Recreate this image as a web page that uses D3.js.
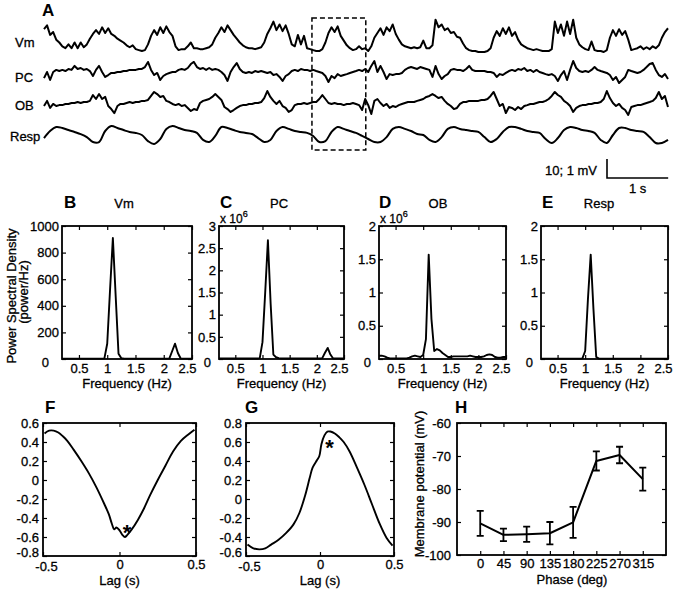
<!DOCTYPE html>
<html><head><meta charset="utf-8">
<script src="https://cdn.jsdelivr.net/npm/d3@7"></script>
<style>
body{margin:0;background:#fff;}
svg{display:block;}
</style></head><body>
<svg id="fig" width="676" height="592"></svg>
<script>
// ---------------- DATA ----------------
// Panel A: traces (sample interval in seconds)
const traceDt = 0.05;
const vmTrace = [ // mV
 -60,-58,-63,-61.5,-65.5,-67,-69,-70,-68,-70,
 -67,-70,-67,-69.5,-68,-65,-62.5,-60.5,-62.5,-59,
 -62,-59.5,-62.5,-63.5,-65,-66,-67,-68.5,-69.5,-68.5,
 -70.5,-71,-71.5,-71,-68,-63.5,-60.5,-63,-59,-62,
 -58.5,-61.5,-63.5,-69,-71,-70.5,-70.5,-69,-67,-70,
 -70,-70.5,-70.5,-70,-69.5,-68,-64.5,-62,-59,-61.5,
 -58,-60.5,-63,-65,-67,-68.5,-69.5,-70,-70,-70.5,
 -70,-69.5,-67,-62.5,-59.5,-56,-60.5,-57.5,-61,-58,
 -62.5,-68,-69,-63,-68,-63.5,-70,-70.5,-71,-71.5,
 -71.5,-70.5,-67,-62,-59,-61.5,-58.5,-63.5,-66,-68.5,
 -70,-71,-70.5,-69,-70.5,-70,-71.5,-69,-64.5,-62,
 -59.5,-63,-59,-61,-57.5,-62.5,-65.5,-68,-69,-69.5,
 -70,-69.5,-70,-69.5,-66,-70,-70,-68.5,-55,-59,
 -57.5,-60.5,-59.5,-62,-61.5,-64,-64.5,-67.5,-70,-71,
 -71.5,-71.5,-72,-72,-72,-71.5,-70,-64.5,-61,-63.5,
 -59.5,-62.5,-59,-63.5,-61.5,-65.5,-68,-69,-70,-70.5,
 -71,-70.5,-71,-71.5,-71.5,-71.5,-70.5,-56,-62,-57.5,
 -63.5,-56,-62.5,-55,-64.5,-68,-69.5,-70.5,-71,-66.5,
 -71,-71.5,-71.5,-72,-71,-64.5,-60.5,-63.5,-60,-63,
 -61,-65.5,-71,-70.5,-70,-69,-70.5,-69.5,-70.5,-69,
 -70,-68.5,-64.5,-61.5,-59.5];
const pcTrace = [ // mV
 -0.32,0,-0.42,0,0.11,0.05,0.11,0.05,0.16,0.11,
 0.32,0.16,0.21,0.11,0.16,0.05,-0.21,0.11,0.32,0,
 -0.26,-0.16,-0.05,-0.05,0,0,0.05,0.05,0.11,0.11,
 0.11,0.16,0.16,0.26,0.53,0.11,-0.16,-0.05,-0.42,-0.21,
 -0.11,-0.05,0,0,0.11,0.16,0.11,0.21,0.42,0.53,
 0.26,0.16,0.21,0.11,0.21,0.11,0.16,0.11,0,-0.16,
 -0.47,0,0.26,0.47,0.16,0,-0.05,0,-0.05,0.05,
 0,0.05,0,-0.05,0,-0.16,-0.11,-0.26,-0.47,-0.21,
 -0.11,0.05,0.11,0.05,0.16,0.11,0.11,0.05,0.11,0.05,
 0,-0.05,-0.21,-0.53,-0.21,-0.32,-0.11,-0.21,-0.16,-0.11,
 -0.05,0,0.05,0.11,0.05,0.16,0,0.32,0.58,0,
 0.32,0,-0.37,-0.11,-0.16,-0.11,-0.11,-0.05,0.11,0.21,
 0.26,0.21,0.16,0.26,0.21,0.16,0.11,-0.26,0.32,-0.11,
 -0.37,-0.21,-0.11,0.11,0.16,0.11,0.11,0.05,0.16,0.32,
 0.11,0.05,0.05,0.05,0.05,0,0,-0.05,-0.26,-0.11,
 -0.16,-0.05,0.05,0.11,0.05,0.16,0.11,0.21,0.05,0.11,
 0,0.11,0,-0.05,-0.11,-0.16,-0.11,-0.21,-0.47,-0.16,
 0.05,-0.42,0.11,0.58,0.21,0.05,0,0.05,0,0.11,
 0.26,0.11,0.05,0,-0.05,-0.16,-0.42,-0.26,-0.58,-0.42,
 -0.26,0.11,0.05,0,-0.05,0,0.11,0.26,0.42,0.47,
 0.11,-0.16,-0.26,-0.11,-0.37];
const obTrace = [ // mV
 -0.16,0.11,-0.26,-0.05,-0.16,-0.11,-0.11,-0.05,-0.05,0,
 0,0.05,0,0.05,0.05,0.11,0.42,0.21,0.47,0.21,
 0.32,-0.16,-0.32,-0.53,-0.16,-0.05,-0.05,0,0.05,0,
 0.05,0.05,0.11,0.11,0.16,0.37,0.58,0.47,0.32,0.37,
 0.11,0.05,-0.05,-0.11,-0.05,-0.16,-0.11,-0.26,-0.42,-0.32,
 -0.37,0,0.11,0.16,0.21,0.32,0.47,0.32,0.16,-0.21,
 -0.32,-0.47,-0.37,-0.26,-0.16,-0.11,-0.11,-0.05,-0.05,0,
 0,0.05,0.26,0.63,0.32,0.11,-0.05,0.11,-0.16,-0.26,
 -0.47,-0.37,-0.11,-0.05,-0.05,0,-0.05,0,0.05,0.05,
 0.21,0.42,0.21,0,-0.05,0,-0.05,-0.05,-0.11,-0.05,
 -0.05,0,-0.05,-0.11,-0.37,0.21,-0.11,-0.58,0.11,0.21,
 0,-0.16,-0.05,-0.26,-0.16,-0.21,-0.11,-0.05,0,0.05,
 0.05,0.05,0.11,0.16,0.21,0.32,0.37,0.47,0.37,0.26,
 0.32,0.11,-0.05,-0.16,-0.32,-0.26,-0.05,0.05,0.05,0.11,
 0.11,0.11,0.11,0.16,0.16,0.21,0.37,0.58,0.21,-0.16,
 -0.05,-0.53,-0.21,-0.26,-0.37,-0.21,-0.32,-0.16,-0.11,-0.05,
 -0.05,0,0.05,0.05,0.11,0.21,0.37,0.58,0.42,0.32,
 0.11,0,-0.16,-0.47,-0.26,-0.16,-0.11,-0.11,-0.05,-0.05,
 0,0,0.05,0.21,0.63,0.26,0,-0.16,-0.05,-0.26,
 -0.37,-0.63,-0.21,-0.16,-0.11,-0.11,-0.05,0,0.05,0.11,
 0.26,0.58,0.21,0.37,-0.21];
const respDt = 0.1;
const respTrace = [ // a.u.
 -1.6,2.1,4.2,3.7,2.6,1.6,0.5,-1.1,-3.7,-3.7,
 2.1,4.7,3.7,2.6,1.6,1.1,0,-3.2,-4.7,-2.1,
 3.2,4.7,3.7,2.6,2.1,1.1,-2.6,-3.7,-0.5,4.2,
 3.7,2.6,1.6,1.1,0.5,-1.6,-3.7,-2.6,2.1,4.2,
 3.2,2.1,1.6,1.1,-0.5,-3.7,-3.2,1.6,4.2,3.2,
 2.1,1.1,-0.5,-2.1,-3.7,-3.7,-1.1,3.2,4.2,3.2,
 2.1,0.5,0,-2.6,-3.7,-1.1,3.2,4.2,3.2,2.6,
 2.1,1.6,-1.1,-3.7,-2.1,1.6,4.2,4.2,3.2,2.1,
 1.6,1.1,-2.1,-4.2,-1.6,2.6,4.2,3.7,2.6,2.1,
 1.1,-2.6,-4.2,0,3.7,3.7,2.6,2.1,1.6,-1.1,
 -4.2,-4.2,-2.6];
const traceLabels = ["Vm","PC","OB","Resp"];
const zoomWindow = [4.38, 5.26]; // s, dashed box
const scaleBarText = "10; 1 mV";
const scaleBarTime = "1 s";

// Panels B-E: power spectral density
const psdFreq = [0.2,0.25,0.3,0.35,0.4,0.45,0.5,0.55,0.6,0.65,0.7,0.75,0.8,0.85,0.9,0.95,
 1.0,1.05,1.1,1.15,1.2,1.25,1.3,1.35,1.4,1.45,1.5,1.55,1.6,1.65,1.7,1.75,1.8,1.85,1.9,1.95,
 2.0,2.05,2.1,2.15,2.2,2.25,2.3,2.35,2.4,2.45,2.5];
const psdVm = [3,3,3,3,3,3,3,3,3,3,3,3,3,3,3,5,115,520,910,470,40,6,
 3,3,3,3,3,3,3,3,3,3,3,3,3,3,3,3,5,60,115,45,4,3,3,3,3];
const psdPC = [0.01,0.01,0.01,0.01,0.01,0.01,0.01,0.01,0.01,0.01,0.01,0.01,0.01,0.01,0.01,
 0.02,0.38,1.5,2.68,1.25,0.1,0.04,0.02,
 0.01,0.01,0.01,0.01,0.01,0.01,0.01,0.01,0.01,0.01,0.01,0.01,0.01,0.01,0.01,
 0.02,0.14,0.25,0.1,0.01,0.01,0.01,0.01,0.01];
const psdOB = [0.05,0.05,0.04,0.02,0.01,0.01,0.01,0.01,0.01,0.01,0.01,0.02,0.04,0.05,0.04,0.03,
 0.06,0.3,1.57,0.6,0.12,0.15,0.13,0.09,0.06,0.03,0.03,0.04,0.04,0.04,0.04,0.04,0.04,0.05,0.04,
 0.03,0.03,0.03,0.04,0.06,0.07,0.06,0.03,0.02,0.02,0.03,0.03];
const psdResp = [0.005,0.005,0.005,0.005,0.005,0.005,0.005,0.005,0.005,0.005,0.005,0.005,0.005,0.005,0.005,
 0.01,0.12,0.9,1.57,0.75,0.03,0.005,
 0.005,0.005,0.005,0.005,0.005,0.005,0.005,0.005,0.005,0.005,0.005,0.005,0.005,0.005,0.005,
 0.005,0.005,0.005,0.005,0.005,0.005,0.005,0.005,0.005,0.005];
const freqTicks = [0.5,1,1.5,2,2.5];
const psdVmTicks = [0,200,400,600,800,1000];
const psdPCTicks = [0,0.5,1,1.5,2,2.5,3];
const psd2Ticks = [0,0.5,1,1.5,2];

// Panels F, G: cross-correlation
const lagF = [-0.49,-0.46,-0.43,-0.40,-0.37,-0.34,-0.30,-0.25,-0.20,-0.15,-0.10,-0.07,-0.05,-0.035,-0.02,0.0,0.02,0.035,0.05,0.08,0.12,0.16,0.20,0.25,0.30,0.35,0.40,0.45,0.49];
const corrF = [0.49,0.52,0.52,0.50,0.46,0.41,0.32,0.20,0.07,-0.08,-0.25,-0.36,-0.46,-0.52,-0.50,-0.53,-0.58,-0.60,-0.58,-0.52,-0.42,-0.30,-0.16,0.00,0.15,0.30,0.41,0.48,0.53];
const lagG = [-0.49,-0.45,-0.41,-0.37,-0.33,-0.28,-0.23,-0.18,-0.14,-0.10,-0.07,-0.05,-0.02,-0.005,0.01,0.03,0.05,0.07,0.10,0.13,0.16,0.20,0.25,0.30,0.35,0.40,0.45,0.49];
const corrG = [-0.48,-0.52,-0.53,-0.52,-0.48,-0.43,-0.36,-0.27,-0.15,0.04,0.22,0.33,0.41,0.45,0.58,0.67,0.71,0.71,0.69,0.65,0.60,0.50,0.33,0.15,-0.05,-0.25,-0.41,-0.49];
const lagTicks = [-0.5,0,0.5];
const corrTicksF = [-0.8,-0.6,-0.4,-0.2,0,0.2,0.4,0.6];
const corrTicksG = [-0.6,-0.4,-0.2,0,0.2,0.4,0.6,0.8];
const peakF = [0.05, -0.5];   // asterisk location (lag, r)
const peakG = [0.065, 0.60];

// Panel H: membrane potential vs respiratory phase
const phaseDeg = [0,45,90,135,180,225,270,315];
const phaseMeanMV = [-90.4,-93.9,-93.7,-93.4,-90.1,-71.5,-69.7,-77.0];
const phaseErrMV = [3.8,1.9,2.3,3.4,4.7,2.9,2.5,3.5];
const mvTicks = [-100,-90,-80,-70,-60];

// ---------------- DRAWING ----------------
const FONT = '"Liberation Sans", Arial, Helvetica, sans-serif';
const svg = d3.select("#fig");
svg.append("rect").attr("width",676).attr("height",592).attr("fill","#fff");
const fmt = d => String(Math.round(d*1000)/1000);

function heavy(sel) { return sel.attr("stroke","#000").attr("stroke-width",0.3); }

function txt(x, y, s, o = {}) {
  const t = svg.append("text").attr("x", x).attr("y", y).text(s)
    .attr("font-family", FONT).attr("font-size", o.size || 13)
    .attr("font-weight", o.bold ? "bold" : "normal")
    .attr("text-anchor", o.anchor || "start").attr("fill", "#000");
  if (!o.bold) heavy(t);
  if (o.rotate) t.attr("transform", `rotate(-90,${x},${y})`);
  return t;
}

// ----- Panel A -----
const tScale = d3.scaleLinear().domain([0, 10.2]).range([44, 668]);
const rows = [
  {name:"Vm", data:vmTrace, dt:traceDt, y:d3.scaleLinear().domain([-72,-52]).range([52,14]), lx:15, ly:47, curve:d3.curveLinear},
  {name:"PC", data:pcTrace, dt:traceDt, y:d3.scaleLinear().domain([-1,1]).range([91,53]), lx:15, ly:82, curve:d3.curveLinear},
  {name:"OB", data:obTrace, dt:traceDt, y:d3.scaleLinear().domain([-1,1]).range([122,84]), lx:15, ly:110, curve:d3.curveLinear},
  {name:"Resp", data:respTrace, dt:respDt, y:d3.scaleLinear().domain([-10,10]).range([154,116]), lx:10, ly:141, curve:d3.curveCatmullRom}
];
rows.forEach((r, k) => {
  const line = d3.line().x((d,i) => tScale(i*r.dt)).y(d => r.y(d)).curve(r.curve);
  svg.append("path").attr("d", line(r.data)).attr("fill","none").attr("stroke","#000")
    .attr("stroke-width", 2).attr("stroke-linejoin","round");
  txt(r.lx, r.ly, traceLabels[k], {size:13});
});
txt(42, 16, "A", {bold:true, size:17});
// dashed zoom box
svg.append("rect").attr("x", tScale(zoomWindow[0])).attr("y", 18)
  .attr("width", tScale(zoomWindow[1]) - tScale(zoomWindow[0])).attr("height", 132)
  .attr("fill","none").attr("stroke","#000").attr("stroke-width",1.5).attr("stroke-dasharray","5,3");
// scale bar: 10 mV (Vm scale) and 1 s
const sbX = 607, sbY = 178;
const sbH = rows[0].y(-72) - rows[0].y(-62);
svg.append("path").attr("d", `M${sbX},${sbY - sbH}V${sbY}H${sbX + tScale(1) - tScale(0)}`)
  .attr("fill","none").attr("stroke","#000").attr("stroke-width",1.6);
txt(597, 175, scaleBarText, {anchor:"end", size:13});
txt(sbX + (tScale(1)-tScale(0))/2, 193, scaleBarTime, {anchor:"middle", size:13});

// ----- generic boxed panel -----
function panel(o) {
  const g = svg.append("g");
  const x = d3.scaleLinear().domain(o.xd).range([o.x0, o.x1]);
  const y = d3.scaleLinear().domain(o.yd).range([o.y1, o.y0]);
  const style = sel => {
    sel.select(".domain").remove();
    sel.attr("font-family", null).attr("font-size", null);
    heavy(sel.selectAll("text").attr("font-size", 13).attr("font-family", FONT).attr("fill", "#000"));
    sel.selectAll("line").attr("stroke", "#000").attr("stroke-width", 1.2);
  };
  const xb = g.append("g").attr("transform", `translate(0,${o.y1})`)
    .call(d3.axisBottom(x).tickValues(o.xt).tickSize(-4).tickPadding(o.xpad).tickFormat(fmt)).call(style);
  if (o.lastEnd) {
    const last = o.xt[o.xt.length - 1];
    xb.selectAll(".tick").filter(d => d === last).select("text")
      .attr("text-anchor", "end").attr("x", o.lastEnd);
  }
  if (o.firstShift) {
    xb.selectAll(".tick").filter(d => d === o.xt[0]).select("text")
      .attr("transform", `translate(${o.firstShift[0]},${o.firstShift[1]})`);
  }
  g.append("g").attr("transform", `translate(0,${o.y0})`)
    .call(d3.axisTop(x).tickValues(o.xt).tickSize(-4).tickFormat("")).call(style);
  const yl = g.append("g").attr("transform", `translate(${o.x0},0)`)
    .call(d3.axisLeft(y).tickValues(o.yt).tickSize(-4).tickPadding(o.ypad).tickFormat(fmt)).call(style);
  if (o.zeroShift) {
    yl.selectAll(".tick").filter(d => d === o.yt[0]).select("text")
      .attr("transform", `translate(${o.zeroShift[0]},${o.zeroShift[1]})`);
  }
  g.append("g").attr("transform", `translate(${o.x1},0)`)
    .call(d3.axisRight(y).tickValues(o.yt).tickSize(-4).tickFormat("")).call(style);
  g.append("rect").attr("x", o.x0).attr("y", o.y0).attr("width", o.x1 - o.x0).attr("height", o.y1 - o.y0)
    .attr("fill", "none").attr("stroke", "#000").attr("stroke-width", 1.8);
  return {g, x, y};
}

// ----- Panels B-E -----
const psdPanels = [
  {letter:"B", title:"Vm", data:psdVm, yd:[0,1000], yt:psdVmTicks, x0:62, x1:192, lx:64, tx:124, exp:false, zs:[-10,3]},
  {letter:"C", title:"PC", data:psdPC, yd:[0,3], yt:psdPCTicks, x0:219, x1:344, lx:220, tx:279, exp:true, zs:[-5,3]},
  {letter:"D", title:"OB", data:psdOB, yd:[0,2], yt:psd2Ticks, x0:379, x1:506, lx:379, tx:438, exp:true, zs:[-5,3]},
  {letter:"E", title:"Resp", data:psdResp, yd:[0,2], yt:psd2Ticks, x0:541, x1:668, lx:542, tx:599, exp:false, zs:[-5,3]}
];
psdPanels.forEach(p => {
  const P = panel({x0:p.x0, x1:p.x1, y0:226, y1:359, xd:[0.2,2.5], yd:p.yd, xt:freqTicks, yt:p.yt, xpad:5, ypad:3, zeroShift:p.zs, lastEnd:4});
  const line = d3.line().x((d,i) => P.x(psdFreq[i])).y(d => P.y(d));
  P.g.append("path").attr("d", line(p.data)).attr("fill","none").attr("stroke","#000")
    .attr("stroke-width",1.9).attr("stroke-linejoin","round");
  txt(p.lx, 208, p.letter, {bold:true, size:17});
  txt(p.tx, 208, p.title, {anchor:"middle", size:13});
  if (p.exp) {
    const t = txt(p.x0 + 1, 223, "x 10", {size:12});
    t.append("tspan").attr("dy", -6).attr("font-size", 9).text("6");
  }
  txt((p.x0 + p.x1)/2, 388, "Frequency (Hz)", {anchor:"middle", size:13});
});
txt(16, 296, "Power Spectral Density", {anchor:"middle", size:13, rotate:true});
txt(28, 292, "(power/Hz)", {anchor:"middle", size:13, rotate:true});

// ----- Panels F, G -----
const corrPanels = [
  {letter:"F", lag:lagF, r:corrF, yd:[-0.8,0.6], yt:corrTicksF, x0:43, x1:196, lx:45, star:peakF},
  {letter:"G", lag:lagG, r:corrG, yd:[-0.6,0.8], yt:corrTicksG, x0:246, x1:394, lx:245, star:peakG}
];
corrPanels.forEach(p => {
  const P = panel({x0:p.x0, x1:p.x1, y0:423, y1:556, xd:[-0.5,0.5], yd:p.yd, xt:lagTicks, yt:p.yt, xpad:4, ypad:4,
    zeroShift:[0,-4], firstShift:[3,2]});
  const line = d3.line().x((d,i) => P.x(p.lag[i])).y(d => P.y(d)).curve(d3.curveCatmullRom);
  P.g.append("path").attr("d", line(p.r)).attr("fill","none").attr("stroke","#000")
    .attr("stroke-width",1.9).attr("stroke-linejoin","round");
  txt(P.x(p.star[0]), P.y(p.star[1]) + 12.5, "*", {anchor:"middle", size:22, bold:true});
  txt(p.lx, 413, p.letter, {bold:true, size:17});
  txt((p.x0 + p.x1)/2, 585, "Lag (s)", {anchor:"middle", size:13});
});

// ----- Panel H -----
{
  const P = panel({x0:457, x1:666, y0:423, y1:555, xd:[-45,360], yd:[-100,-60], xt:phaseDeg, yt:mvTicks, xpad:4, ypad:6});
  const line = d3.line().x((d,i) => P.x(phaseDeg[i])).y(d => P.y(d));
  P.g.append("path").attr("d", line(phaseMeanMV)).attr("fill","none").attr("stroke","#000")
    .attr("stroke-width",2).attr("stroke-linejoin","round");
  phaseDeg.forEach((ph, i) => {
    const x = P.x(ph), yt = P.y(phaseMeanMV[i] + phaseErrMV[i]), yb = P.y(phaseMeanMV[i] - phaseErrMV[i]);
    P.g.append("path").attr("d", `M${x},${yt}V${yb}M${x-3.5},${yt}H${x+3.5}M${x-3.5},${yb}H${x+3.5}`)
      .attr("fill","none").attr("stroke","#000").attr("stroke-width",1.8);
  });
  txt(455, 413, "H", {bold:true, size:17});
  txt(572, 584, "Phase (deg)", {anchor:"middle", size:13});
  txt(424, 484, "Membrane potential (mV)", {anchor:"middle", size:13, rotate:true});
}
</script>
</body></html>
